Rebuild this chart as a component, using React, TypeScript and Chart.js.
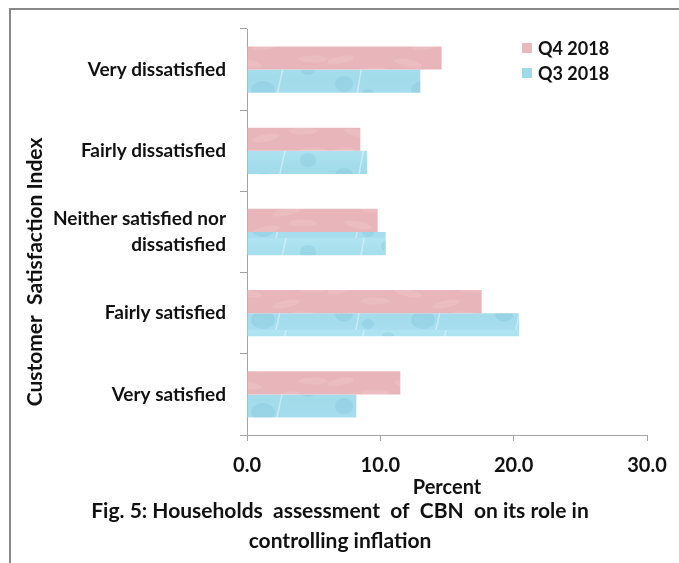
import React, { useEffect, useRef } from "react";
import { Chart, registerables } from "chart.js";

Chart.register(...registerables);

const categories: (string | string[])[] = [
  "Very dissatisfied",
  "Fairly dissatisfied",
  ["Neither satisfied nor", "dissatisfied"],
  "Fairly satisfied",
  "Very satisfied",
];
const seriesLabels = ["Q4 2018", "Q3 2018"];
const q4Values = [14.6, 8.5, 9.8, 17.6, 11.5];
const q3Values = [13.0, 9.0, 10.4, 20.4, 8.2];
const xTickValues = [0, 10, 20, 30];
const yTitle = "Customer  Satisfaction Index";
const xTitle = "Percent";
const caption = [
  "Fig. 5: Households  assessment  of  CBN  on its role in",
  "controlling inflation",
];

const FONT = "Lato";
const PINK = "#e9b8bc";
const BLUE = "#a0d9e9";
const AXIS = "#a3a3a3";
const TEXT = "#111111";

function makePattern(kind: "pink" | "blue"): CanvasPattern | string {
  const c = document.createElement("canvas");
  c.width = 160;
  c.height = 46;
  const g = c.getContext("2d");
  if (!g) return kind === "pink" ? PINK : BLUE;
  if (kind === "pink") {
    g.fillStyle = "#e8b6ba";
    g.fillRect(0, 0, 160, 46);
    g.fillStyle = "rgba(243,206,209,0.3)";
    const spots = [[12, 6], [47, 17], [80, 9], [118, 20], [145, 5], [30, 33], [98, 38], [135, 31]];
    spots.forEach(([x, y], i) => {
      g.beginPath();
      g.ellipse(x, y, 14, 3.5, (i % 3) * 0.2 - 0.2, 0, Math.PI * 2);
      g.fill();
    });
  } else {
    const grad = g.createLinearGradient(0, 0, 0, 46);
    grad.addColorStop(0, "#b0e4f2");
    grad.addColorStop(0.5, "#a2dbea");
    grad.addColorStop(1, "#a8def0");
    g.fillStyle = grad;
    g.fillRect(0, 0, 160, 46);
    g.fillStyle = "rgba(110,180,205,0.22)";
    const blobs = [[16, 30, 9, 8], [60, 8, 7, 6], [95, 36, 12, 9], [140, 14, 8, 7], [40, 40, 6, 5]];
    blobs.forEach(([x, y, rx, ry]) => {
      g.beginPath();
      g.ellipse(x, y, rx, ry, 0, 0, Math.PI * 2);
      g.fill();
    });
    g.strokeStyle = "rgba(240,252,255,0.45)";
    g.lineWidth = 1.5;
    [[28, 46, 36, 0], [108, 46, 118, 0]].forEach(([a, b, c2, d]) => {
      g.beginPath();
      g.moveTo(a, b);
      g.lineTo(c2, d);
      g.stroke();
    });
  }
  return g.createPattern(c, "repeat") || (kind === "pink" ? PINK : BLUE);
}

const extras = {
  id: "extras",
  afterDraw(chart: any) {
    const ctx = chart.ctx as CanvasRenderingContext2D;
    ctx.save();
    ctx.fillStyle = TEXT;
    // y title
    ctx.save();
    ctx.translate(27, 264);
    ctx.rotate(-Math.PI / 2);
    ctx.font = `bold 21px ${FONT}`;
    ctx.textAlign = "center";
    ctx.textBaseline = "middle";
    ctx.fillText(yTitle, 0, 0);
    ctx.restore();

    // legend
    const colors = [PINK, BLUE];
    ctx.font = `bold 18px ${FONT}`;
    ctx.textAlign = "left";
    ctx.textBaseline = "middle";
    seriesLabels.forEach((lab, i) => {
      const cy = 40 + i * 25;
      ctx.fillStyle = colors[i];
      ctx.fillRect(514, cy - 5, 10, 10);
      ctx.fillStyle = TEXT;
      ctx.fillText(lab, 530, cy + 1);
    });

    // caption
    ctx.font = `bold 21px ${FONT}`;
    ctx.textAlign = "center";
    caption.forEach((line, i) => {
      ctx.fillText(line, 332, 503 + i * 30);
    });
    ctx.restore();
  },
};

export default function App() {
  const ref = useRef<HTMLCanvasElement | null>(null);
  useEffect(() => {
    if (!ref.current) return;
    const chart = new Chart(ref.current, {
      type: "bar",
      data: {
        labels: categories as any,
        datasets: [
          {
            label: seriesLabels[0],
            data: q4Values,
            backgroundColor: makePattern("pink") as any,
            categoryPercentage: 0.57,
            barPercentage: 1.0,
          },
          {
            label: seriesLabels[1],
            data: q3Values,
            backgroundColor: makePattern("blue") as any,
            categoryPercentage: 0.57,
            barPercentage: 1.0,
          },
        ],
      },
      options: {
        indexAxis: "y",
        animation: false,
        responsive: false,
        maintainAspectRatio: false,
        layout: { padding: { left: 0, top: 21, right: 24, bottom: 0 } },
        plugins: {
          legend: { display: false },
          tooltip: { enabled: false },
        },
        scales: {
          x: {
            min: 0,
            max: 30,
            afterBuildTicks: (scale: any) => {
              scale.ticks = xTickValues.map((v) => ({ value: v }));
            },
            afterFit: (scale: any) => {
              scale.height = 120;
              scale.paddingLeft = 0;
              scale.paddingRight = 0;
            },
            border: { display: true, color: AXIS, width: 1 },
            grid: {
              display: true,
              drawOnChartArea: false,
              drawTicks: true,
              tickLength: 6,
              color: AXIS,
            },
            ticks: {
              padding: 13,
              color: TEXT,
              font: { family: FONT, size: 20, weight: "bold" },
              callback: (v: any) => Number(v).toFixed(1),
            },
            title: {
              display: true,
              text: xTitle,
              color: TEXT,
              font: { family: FONT, size: 20, weight: "bold", lineHeight: 1.2 },
              padding: { top: 0, bottom: 55 },
            },
          },
          y: {
            afterFit: (scale: any) => {
              scale.width = 239;
              scale.paddingTop = 0;
              scale.paddingBottom = 0;
            },
            border: { display: true, color: AXIS, width: 1 },
            grid: {
              display: true,
              drawOnChartArea: false,
              drawTicks: true,
              tickLength: 7,
              color: AXIS,
            },
            ticks: {
              padding: 14,
              color: TEXT,
              font: { family: FONT, size: 19, weight: "bold", lineHeight: 1.35 },
            },
          },
        },
      },
      plugins: [extras],
    });
    return () => chart.destroy();
  }, []);
  return (
    <div style={{ width: 663, height: 547, position: "relative" }}>
      <div
        style={{
          position: "fixed",
          left: 9,
          top: 8,
          right: -20,
          bottom: -20,
          borderLeft: "2px solid #888888",
          borderTop: "2px solid #888888",
          pointerEvents: "none",
        }}
      />
      <canvas ref={ref} width={663} height={547} style={{ display: "block" }} />
    </div>
  );
}
